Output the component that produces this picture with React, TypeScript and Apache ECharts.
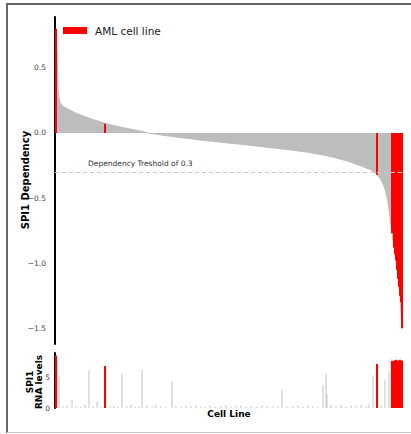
import React, { useEffect, useRef } from "react";
import * as echarts from "echarts";

// Sorted SPI1 dependency curve (cell-line rank -> dependency score)
const depRanks = [1, 2, 3, 4, 5, 7, 10, 15, 20, 30, 40, 50, 60, 70, 80, 90, 92, 100, 110, 130, 150, 170, 190, 210, 235, 255, 275, 290, 305, 315, 321, 326, 329, 331, 333, 335, 337, 339, 341, 343, 345, 347];
const depValues = [0.70, 0.62, 0.33, 0.27, 0.235, 0.21, 0.195, 0.175, 0.155, 0.125, 0.098, 0.074, 0.054, 0.038, 0.022, 0.008, 0.0, -0.008, -0.02, -0.04, -0.058, -0.075, -0.09, -0.108, -0.13, -0.15, -0.18, -0.21, -0.25, -0.28, -0.31, -0.36, -0.41, -0.46, -0.53, -0.65, -0.77, -0.88, -0.98, -1.12, -1.25, -1.50];

// AML cell lines: rank, dependency, RNA level
const amlRanks = [1, 50, 322, 337, 339, 340, 341, 342, 343, 344, 345, 346, 347];
const amlDep = [0.80, 0.07, -0.32, -0.77, -0.88, -0.93, -0.98, -1.05, -1.12, -1.18, -1.25, -1.30, -1.50];
const amlRna = [8.5, 6.8, 7.1, 7.6, 7.7, 7.5, 7.8, 7.6, 7.7, 7.4, 7.8, 7.6, 7.7];

// Other cell lines' SPI1 RNA levels (rank -> level)
const rnaRanks = [2, 4, 8, 12, 17, 21, 26, 30, 34, 38, 42, 46, 55, 59, 63, 67, 72, 76, 80, 84, 87, 92, 97, 101, 106, 111, 117, 121, 126, 131, 136, 141, 146, 150, 155, 160, 166, 171, 176, 181, 186, 191, 196, 202, 207, 212, 218, 223, 227, 232, 238, 243, 248, 253, 258, 263, 268, 271, 272, 276, 281, 286, 291, 296, 301, 306, 311, 314, 318, 326, 330, 334, 336, 338];
const rnaValues = [8.2, 5.0, 0.3, 0.4, 1.3, 0.3, 0.2, 0.5, 6.1, 0.3, 1.0, 0.2, 0.3, 0.4, 0.2, 5.5, 0.3, 0.5, 0.2, 0.3, 6.2, 0.4, 0.2, 0.5, 0.3, 0.2, 4.4, 0.3, 0.2, 0.4, 0.3, 0.5, 0.2, 0.3, 0.4, 0.2, 0.3, 0.5, 0.2, 0.3, 0.4, 0.2, 0.3, 0.2, 0.4, 0.3, 0.2, 0.3, 2.9, 0.2, 0.3, 0.4, 0.2, 0.5, 0.3, 0.2, 3.7, 5.5, 2.3, 0.4, 0.3, 0.5, 0.2, 0.4, 0.3, 0.5, 0.3, 0.6, 5.3, 0.4, 4.5, 5.8, 7.9, 7.7];

const threshold = -0.3;
const totalRanks = 348;

const FONT = "DejaVu Sans";

export default function App() {
  const ref = useRef<HTMLDivElement>(null);

  useEffect(() => {
    if (!ref.current) return;
    const chart = echarts.init(ref.current, undefined, { renderer: "svg" });

    const fmt = (v: number) => (v < 0 ? "\u2212" : "") + Math.abs(v).toFixed(1);

    chart.setOption({
      animation: false,
      backgroundColor: "#ffffff",
      grid: [
        { left: 55, top: 17, width: 348, height: 327 },
        { left: 55, top: 353, width: 348, height: 55 },
      ],
      xAxis: [
        { type: "value", gridIndex: 0, min: 0, max: totalRanks, show: false },
        { type: "value", gridIndex: 1, min: 0, max: totalRanks, show: false },
        { type: "value", gridIndex: 1, min: 0, max: totalRanks, show: false },
      ],
      yAxis: [
        {
          type: "value",
          gridIndex: 0,
          min: -1.62,
          max: 0.89,
          splitNumber: 5,
          axisLine: { show: true, lineStyle: { color: "#000", width: 2 } },
          axisTick: { show: false },
          splitLine: { show: false },
          axisLabel: {
            showMinLabel: false,
            showMaxLabel: false,
            formatter: fmt,
            fontSize: 7.5,
            color: "#444",
            margin: 9,
            fontFamily: FONT,
          },
        },
        {
          type: "value",
          gridIndex: 1,
          min: 0,
          max: 8.9,
          interval: 5,
          axisLine: { show: true, lineStyle: { color: "#000", width: 2 } },
          axisTick: { show: false },
          splitLine: { show: false },
          axisLabel: {
            showMaxLabel: false,
            fontSize: 7.5,
            color: "#444",
            margin: 5,
            fontFamily: FONT,
          },
        },
      ],
      legend: {
        data: ["AML cell line"],
        left: 63,
        top: 25,
        padding: 0,
        icon: "rect",
        itemWidth: 24,
        itemHeight: 7,
        textStyle: { fontSize: 10.5, color: "#222", fontFamily: FONT, padding: [0, 0, 0, 3] },
      },
      series: [
        {
          type: "line",
          xAxisIndex: 0,
          yAxisIndex: 0,
          data: depRanks.map((r, i) => [r, depValues[i]]),
          symbol: "none",
          lineStyle: { color: "#bdbdbd", width: 1 },
          areaStyle: { color: "#bdbdbd", opacity: 1 },
          markLine: {
            silent: true,
            symbol: "none",
            label: { show: false },
            lineStyle: { type: [4, 3], color: "#cccccc", width: 1 },
            data: [{ yAxis: threshold }],
          },
          z: 2,
        },
        {
          name: "AML cell line",
          type: "bar",
          xAxisIndex: 0,
          yAxisIndex: 0,
          data: amlRanks.map((r, i) => [r, amlDep[i]]),
          barWidth: 2,
          itemStyle: { color: "#ff0000" },
          z: 3,
        },
        {
          type: "bar",
          xAxisIndex: 1,
          yAxisIndex: 1,
          data: rnaRanks.map((r, i) => [r, rnaValues[i]]),
          barWidth: 1,
          itemStyle: { color: "#c4c4c4" },
          z: 3,
        },
        {
          type: "bar",
          xAxisIndex: 2,
          yAxisIndex: 1,
          data: amlRanks.map((r, i) => [r, amlRna[i]]),
          barWidth: 2,
          itemStyle: { color: "#ff0000" },
          z: 4,
        },
      ],
      graphic: [
        {
          type: "text",
          x: 25,
          y: 180,
          rotation: Math.PI / 2,
          style: {
            text: "SPI1 Dependency",
            font: `bold 10px "${FONT}"`,
            fill: "#000",
            align: "center",
            verticalAlign: "middle",
          },
        },
        {
          type: "text",
          x: 30,
          y: 382,
          rotation: Math.PI / 2,
          style: {
            text: "SPI1",
            font: `bold 9px "${FONT}"`,
            fill: "#000",
            align: "center",
            verticalAlign: "middle",
          },
        },
        {
          type: "text",
          x: 39,
          y: 382,
          rotation: Math.PI / 2,
          style: {
            text: "RNA levels",
            font: `bold 9px "${FONT}"`,
            fill: "#000",
            align: "center",
            verticalAlign: "middle",
          },
        },
        {
          type: "text",
          x: 229,
          y: 414,
          style: {
            text: "Cell Line",
            font: `bold 9px "${FONT}"`,
            fill: "#000",
            align: "center",
            verticalAlign: "middle",
          },
        },
        {
          type: "text",
          x: 88,
          y: 163,
          style: {
            text: "Dependency Treshold of 0.3",
            font: `7.5px "${FONT}"`,
            fill: "#333",
            align: "left",
            verticalAlign: "middle",
          },
        },
        { type: "line", shape: { x1: 6, y1: 4, x2: 411, y2: 4 }, style: { stroke: "#666", lineWidth: 2 } },
        { type: "line", shape: { x1: 7, y1: 4, x2: 7, y2: 433 }, style: { stroke: "#666", lineWidth: 2 } },
        { type: "line", shape: { x1: 7, y1: 432.5, x2: 411, y2: 432.5 }, style: { stroke: "#c8c8c8", lineWidth: 1 } },
      ],
    });

    return () => chart.dispose();
  }, []);

  return (
    <div
      ref={ref}
      style={{ position: "fixed", left: 0, top: 0, width: 411, height: 434, background: "#fff" }}
    />
  );
}
